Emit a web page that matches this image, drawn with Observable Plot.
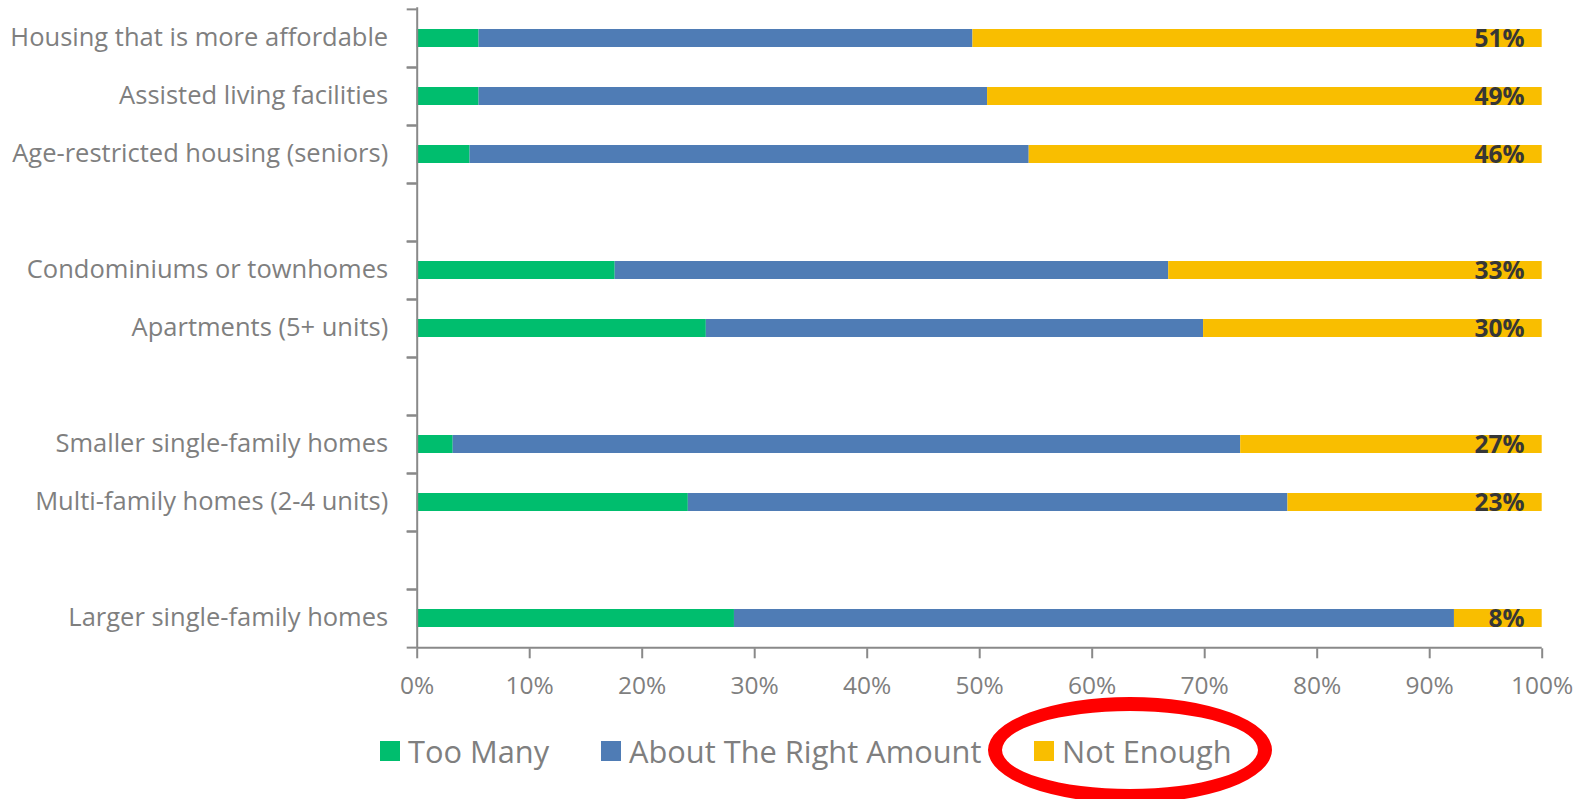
<!DOCTYPE html>
<html>
<head>
<meta charset="utf-8">
<script src="https://cdn.jsdelivr.net/npm/d3@7"></script>
<script src="https://cdn.jsdelivr.net/npm/@observablehq/plot@0.6"></script>
<style>
  html, body { margin: 0; padding: 0; background: #fff; overflow: hidden; }
  #wrap { position: relative; width: 1585px; height: 799px; font-family: "Open Sans", sans-serif; }
  .legend-item { position: absolute; top: 731px; height: 40px; display: flex; align-items: center; font-size: 30.8px; color: #7f7f7f; white-space: nowrap; }
  .swatch { width: 20px; height: 20px; margin-right: 8px; }
  #ellipse { position: absolute; left: 988px; top: 697px; width: 284px; height: 106px; box-sizing: border-box; border: 14px solid #ff0000; border-radius: 50%; }
</style>
</head>
<body>
<div id="wrap">
  <div id="chart"></div>
  <div id="legend"></div>
  <div id="ellipse"></div>
</div>
<script>
// Rows top-to-bottom; blank (unique whitespace) keys are the empty gap rows
const rows = [
  "Housing that is more affordable",
  "Assisted living facilities",
  "Age-restricted housing (seniors)",
  " ",
  "Condominiums or townhomes",
  "Apartments (5+ units)",
  "  ",
  "Smaller single-family homes",
  "Multi-family homes (2-4 units)",
  "   ",
  "Larger single-family homes"
];
const items = [
  "Housing that is more affordable",
  "Assisted living facilities",
  "Age-restricted housing (seniors)",
  "Condominiums or townhomes",
  "Apartments (5+ units)",
  "Smaller single-family homes",
  "Multi-family homes (2-4 units)",
  "Larger single-family homes"
];
const responses = ["Too Many", "About The Right Amount", "Not Enough"];
const tooMany    = [5.5, 5.5, 4.7, 17.6, 25.7, 3.2, 24.1, 28.2];
const aboutRight = [43.9, 45.2, 49.7, 49.2, 44.2, 70.0, 53.3, 64.0];
const notEnough  = [50.6, 49.3, 45.6, 33.2, 30.1, 26.8, 22.6, 7.8];
const notEnoughLabels = ["51%", "49%", "46%", "33%", "30%", "27%", "23%", "8%"];
const xTicks = [0, 10, 20, 30, 40, 50, 60, 70, 80, 90, 100];
const colors = ["#00BE6E", "#4F7CB5", "#F9BE00"];

const series = [tooMany, aboutRight, notEnough];
const data = [];
items.forEach((item, i) => {
  responses.forEach((r, j) => data.push({item, response: r, value: series[j][i]}));
});
const labelData = items.map((item, i) => ({
  item, text: notEnoughLabels[i], total: tooMany[i] + aboutRight[i] + notEnough[i]
}));

const W = 1585, H = 710;
const mt = 7.3, mb = H - 648.3, ml = 416.7, mr = W - 1541.7;
const step = (H - mt - mb) / rows.length;
const grey = "#898989";

const chart = Plot.plot({
  width: W,
  height: H,
  marginTop: mt,
  marginBottom: mb,
  marginLeft: ml,
  marginRight: mr,
  style: {fontFamily: "Open Sans", background: "#fff"},
  x: {domain: [0, 100]},
  y: {domain: rows, paddingInner: 0.686, paddingOuter: 0.343},
  color: {domain: responses, range: colors},
  marks: [
    Plot.barX(data, Plot.stackX({x: "value", y: "item", fill: "response"})),
    Plot.text(labelData, {
      x: "total", y: "item", text: "text", textAnchor: "end", dx: -17.7, dy: 1,
      fontSize: 24.5, fontWeight: "bold", fill: "#363636"
    }),
    Plot.ruleX([0], {stroke: grey, strokeWidth: 2}),
    Plot.ruleY([rows[rows.length - 1]], {x1: 0, x2: 100, dy: step / 2, stroke: grey, strokeWidth: 2}),
    Plot.axisY({tickSize: 10, fill: "none", dy: -step / 2, stroke: grey, strokeWidth: 2, label: null}),
    Plot.axisY({tickSize: 10, fill: "none", dy: step / 2, stroke: grey, strokeWidth: 2, label: null}),
    Plot.axisY({tickSize: 0, tickPadding: 29, dy: -1, fontSize: 25.5, fill: "#7f7f7f", label: null}),
    Plot.axisX({
      ticks: xTicks, tickFormat: d => d + "%", tickSize: 10, tickPadding: 18,
      fontSize: 24.5, fill: "#7f7f7f", stroke: grey, strokeWidth: 2, label: null
    })
  ]
});
document.getElementById("chart").appendChild(chart);

// Legend
const legendLefts = [380, 601, 1034];
const legend = document.getElementById("legend");
responses.forEach((r, i) => {
  const item = document.createElement("div");
  item.className = "legend-item";
  item.style.left = legendLefts[i] + "px";
  const sw = document.createElement("div");
  sw.className = "swatch";
  sw.style.background = colors[i];
  const t = document.createElement("span");
  t.textContent = r;
  item.appendChild(sw);
  item.appendChild(t);
  legend.appendChild(item);
});
</script>
</body>
</html>
